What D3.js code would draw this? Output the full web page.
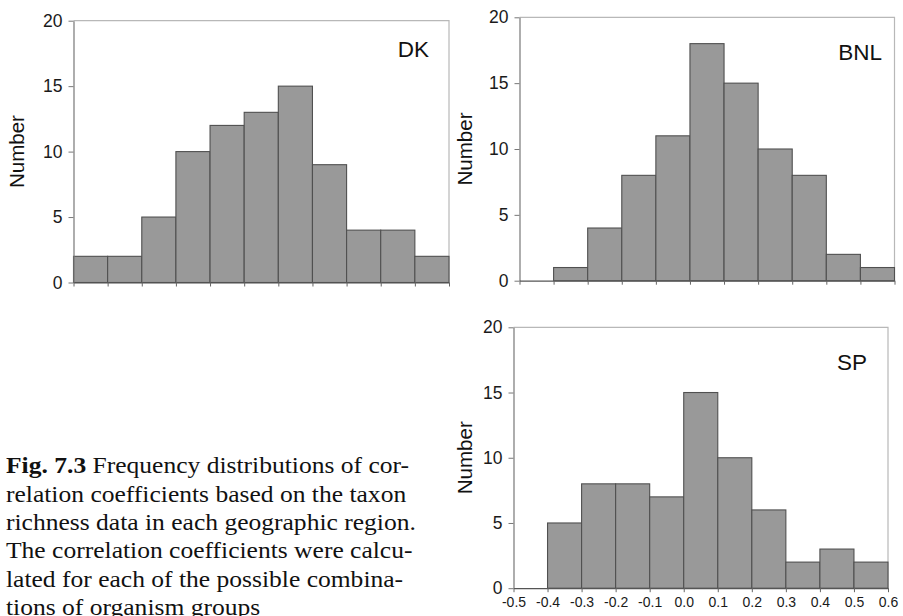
<!DOCTYPE html>
<html>
<head>
<meta charset="utf-8">
<script src="https://cdn.jsdelivr.net/npm/d3@7"></script>
<style>
  html, body { margin: 0; padding: 0; background: #fff; }
  svg { display: block; }
</style>
</head>
<body>
<svg id="fig" width="903" height="616"></svg>
<script>
// Bin edges of the correlation coefficient (shared by all panels)
const binEdgeLabels = ["-0.5", "-0.4", "-0.3", "-0.2", "-0.1", "0.0", "0.1", "0.2", "0.3", "0.4", "0.5", "0.6"];
// Counts per bin for each region
const dkCounts  = [2, 2, 5, 10, 12, 13, 15, 9, 4, 4, 2];
const bnlCounts = [0, 1, 4, 8, 11, 18, 15, 10, 8, 2, 1];
const spCounts  = [0, 5, 8, 8, 7, 15, 10, 6, 2, 3, 2];
const regionNames = ["DK", "BNL", "SP"];
const yTicks = [0, 5, 10, 15, 20];
const yTitle = "Number";
const captionBold = "Fig. 7.3";
const captionLines = [
  " Frequency distributions of cor-",
  "relation coefficients based on the taxon",
  "richness data in each geographic region.",
  "The correlation coefficients were calcu-",
  "lated for each of the possible combina-",
  "tions of organism groups"
];

const binEdges = binEdgeLabels.map(Number);
const svg = d3.select("#fig");

const panels = [
  { counts: dkCounts,  name: regionNames[0], x0: 73.5,  x1: 449,   y0: 20.7,  y1: 282.5, xLabels: false, nameRight: 429, nameBase: 57,  titleX: 17 },
  { counts: bnlCounts, name: regionNames[1], x0: 519.5, x1: 894.5, y0: 17.3,  y1: 280.7, xLabels: false, nameRight: 882, nameBase: 60,  titleX: 465 },
  { counts: spCounts,  name: regionNames[2], x0: 513.5, x1: 888,   y0: 327.3, y1: 588.2, xLabels: true,  nameRight: 867, nameBase: 370, titleX: 465 }
];

panels.forEach(p => {
  const x = d3.scaleLinear().domain([binEdges[0], binEdges[binEdges.length - 1]]).range([p.x0, p.x1]);
  const y = d3.scaleLinear().domain([0, 20]).range([p.y1, p.y0]);
  const g = svg.append("g");

  // top and right frame
  g.append("path")
    .attr("d", `M${p.x0},${p.y0}H${p.x1}V${p.y1}`)
    .attr("fill", "none").attr("stroke", "#b8b8b8").attr("stroke-width", 1.2);

  // histogram bars
  const bins = p.counts.map((c, i) => ({ lo: binEdges[i], hi: binEdges[i + 1], c }));
  g.selectAll("rect.bar").data(bins.filter(d => d.c > 0)).join("rect")
    .attr("class", "bar")
    .attr("x", d => x(d.lo))
    .attr("width", d => x(d.hi) - x(d.lo))
    .attr("y", d => y(d.c))
    .attr("height", d => y(0) - y(d.c))
    .attr("fill", "#999999")
    .attr("stroke", "#505050")
    .attr("stroke-width", 1.1);

  // y axis
  const ya = g.append("g").attr("transform", `translate(${p.x0},0)`)
    .call(d3.axisLeft(y).tickValues(yTicks).tickSize(5).tickPadding(6).tickSizeOuter(0));
  ya.select(".domain").attr("stroke", "#777").attr("stroke-width", 1.2);
  ya.selectAll(".tick line").attr("stroke", "#777");
  ya.selectAll(".tick text")
    .attr("font-family", "Liberation Sans, Arial, sans-serif")
    .attr("font-size", 17.5).attr("fill", "#1a1a1a");

  // x axis
  const xa = g.append("g").attr("transform", `translate(0,${p.y1})`)
    .call(d3.axisBottom(x).tickValues(binEdges).tickSize(4).tickPadding(5).tickSizeOuter(0)
      .tickFormat((d, i) => p.xLabels ? binEdgeLabels[i] : ""));
  xa.select(".domain").attr("stroke", "#555").attr("stroke-width", 1.2);
  xa.selectAll(".tick line").attr("stroke", "#666");
  xa.selectAll(".tick text")
    .attr("font-family", "Liberation Sans, Arial, sans-serif")
    .attr("font-size", 14).attr("fill", "#1a1a1a");

  // region name
  g.append("text")
    .attr("x", p.nameRight).attr("y", p.nameBase)
    .attr("text-anchor", "end")
    .attr("font-family", "Liberation Sans, Arial, sans-serif")
    .attr("font-size", 22.5).attr("fill", "#111")
    .text(p.name);

  // y axis title
  g.append("text")
    .attr("transform", `translate(${p.titleX + 7},${(p.y0 + p.y1) / 2}) rotate(-90)`)
    .attr("text-anchor", "middle")
    .attr("font-family", "Liberation Sans, Arial, sans-serif")
    .attr("font-size", 20.5).attr("fill", "#111")
    .text(yTitle);
});

// caption
const cap = svg.append("g").attr("transform", "translate(6,0)");
const capFont = "Liberation Serif, Times New Roman, serif";
const lineTexts = captionLines.map((line, i) => {
  const t = cap.append("text")
    .attr("x", 0).attr("y", 473.3 + i * 28.3)
    .attr("font-family", capFont)
    .attr("font-size", 22.5).attr("fill", "#111");
  if (i === 0) {
    t.append("tspan").attr("font-weight", "bold").text(captionBold);
  }
  t.append("tspan").text(line);
  return t;
});
// widen the serif face to the set width of the caption block
const widest = lineTexts[2].node().getComputedTextLength();
const sx = 410 / widest;
lineTexts.forEach(t => {
  const yy = +t.attr("y");
  t.attr("y", 0).attr("transform", `translate(0,${yy}) scale(${sx},1)`);
});
</script>
</body>
</html>
